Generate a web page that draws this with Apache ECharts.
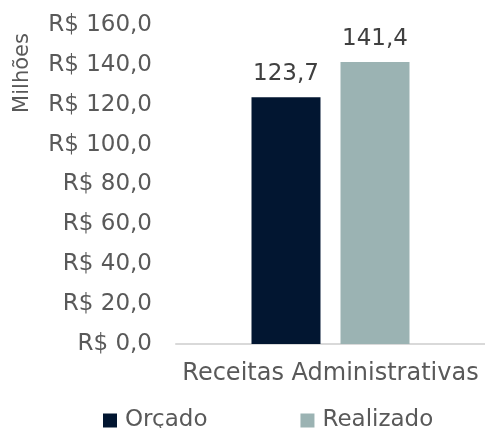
<!DOCTYPE html>
<html><head><meta charset="utf-8">
<script src="https://cdn.jsdelivr.net/npm/echarts@6/dist/echarts.min.js"></script>
<style>html,body{margin:0;padding:0;background:#fff}#c{width:485px;height:428px}</style>
</head><body><div id="c"></div>
<script>
const categories = ["Receitas Administrativas"];
const seriesNames = ["Orçado", "Realizado"];
const orcado = [123.7];
const realizado = [141.4];
const yTicks = {min: 0, max: 160, interval: 20};
const colors = ["#021631", "#9BB3B3"];
const font = "DejaVu Sans";
const fmt = v => v.toFixed(1).replace('.', ',');

const chart = echarts.init(document.getElementById('c'), null, {renderer: 'canvas'});
const labelStyle = {show: true, position: 'top', distance: 12, color: '#404040', fontSize: 23, fontFamily: font, formatter: p => fmt(p.value)};
chart.setOption({
  animation: false,
  textStyle: {fontFamily: font},
  grid: {left: 176, right: 0, top: 25, bottom: 84, containLabel: false},
  legend: {
    top: 404, left: 98, itemGap: 93, itemWidth: 14, itemHeight: 14, icon: 'rect',
    textStyle: {color: '#595959', fontSize: 23, fontFamily: font, padding: [0, 0, 0, 3]},
    data: seriesNames
  },
  xAxis: {
    type: 'category', data: categories,
    axisLine: {lineStyle: {color: '#D9D9D9', width: 2}},
    axisTick: {show: false},
    axisLabel: {color: '#595959', fontSize: 24, fontFamily: font, margin: 18}
  },
  yAxis: {
    type: 'value', min: yTicks.min, max: yTicks.max, interval: yTicks.interval,
    splitLine: {show: false}, axisLine: {show: false}, axisTick: {show: false},
    axisLabel: {color: '#595959', fontSize: 23, fontFamily: font, margin: 24, formatter: v => 'R$ ' + fmt(v)}
  },
  graphic: [{
    type: 'text', x: 23, y: 73, rotation: Math.PI / 2,
    style: {text: 'Milhões', fill: '#595959', fontSize: 21, fontFamily: font, align: 'center', verticalAlign: 'middle'}
  }],
  series: [
    {name: seriesNames[0], type: 'bar', data: orcado, barWidth: 69, barGap: '29%', itemStyle: {color: colors[0]}, label: labelStyle},
    {name: seriesNames[1], type: 'bar', data: realizado, barWidth: 69, barGap: '29%', itemStyle: {color: colors[1]}, label: labelStyle}
  ]
});
</script></body></html>
